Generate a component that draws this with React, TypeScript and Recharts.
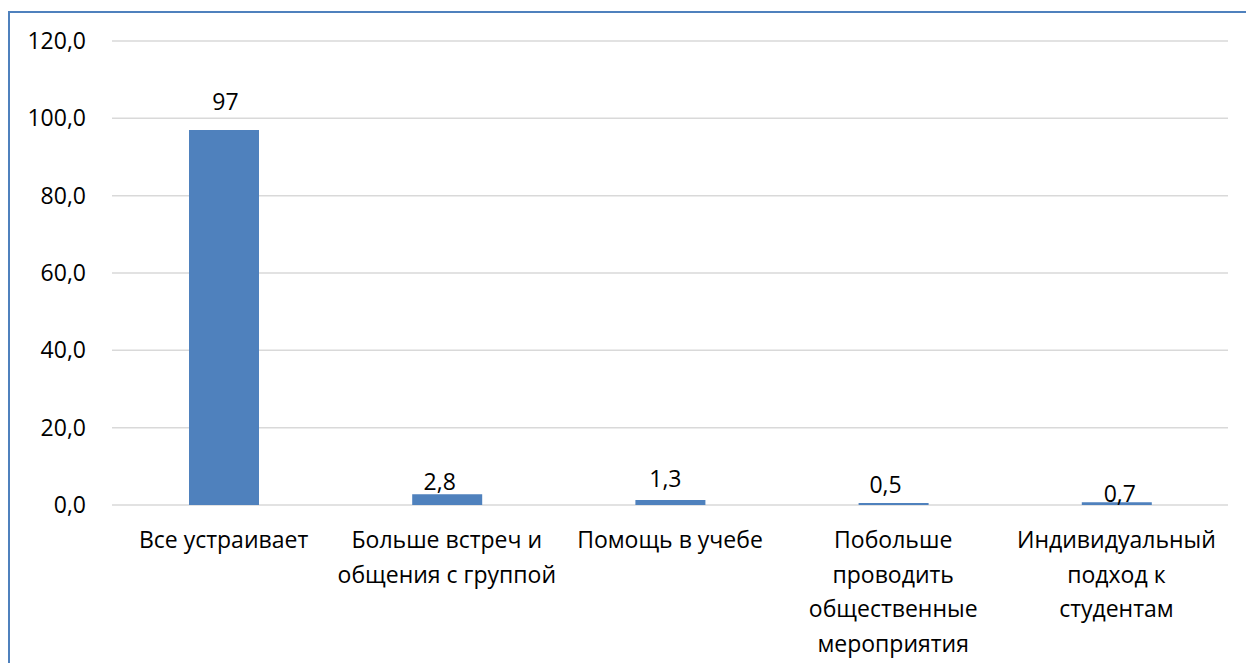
import { Bar, BarChart, CartesianGrid, LabelList, XAxis, YAxis } from 'recharts';

// chart values
const categories = [
  'Все устраивает',
  'Больше встреч и\nобщения с группой',
  'Помощь в учебе',
  'Побольше\nпроводить\nобщественные\nмероприятия',
  'Индивидуальный\nподход к\nстудентам',
];
const shares = [97, 2.8, 1.3, 0.5, 0.7];
const yTicks = [0, 20, 40, 60, 80, 100, 120];

// hand-placed data labels in the original (dx, lift above bar top)
const labelNudge = [
  { dx: 1.5, lift: 20 },
  { dx: -7.5, lift: 4 },
  { dx: -5, lift: 13 },
  { dx: -8, lift: 10 },
  { dx: 3, lift: 0 },
];

const FONT = "'Open Sans', 'Noto Sans', sans-serif";
const FS = 23;

const data = categories.map((name, i) => ({ name, value: shares[i] }));

const fmt = (v: number) => String(v).replace('.', ',');

function CategoryTick(props: any) {
  const { x, y, payload } = props;
  const lines = String(payload.value).split('\n');
  return (
    <text x={x} y={y} textAnchor="middle" fontFamily={FONT} fontSize={FS} fill="#000">
      {lines.map((l, i) => (
        <tspan key={i} x={x} dy={i === 0 ? 43 : 34.5}>
          {l}
        </tspan>
      ))}
    </text>
  );
}

function ValueLabel(props: any) {
  const { x, y, width, value, index } = props;
  const n = labelNudge[index] ?? { dx: 0, lift: 8 };
  return (
    <text
      x={x + width / 2 + n.dx}
      y={y - n.lift}
      textAnchor="middle"
      fontFamily={FONT}
      fontSize={FS}
      fill="#000"
    >
      {fmt(value)}
    </text>
  );
}

export default function App() {
  return (
    <>
      <div
        style={{
          position: 'absolute',
          left: 8,
          top: 11,
          width: 1238,
          height: 652,
          boxSizing: 'border-box',
          borderTop: '2px solid #4f81bd',
          borderLeft: '2px solid #4f81bd',
          background: '#fff',
        }}
      />
      <div style={{ position: 'absolute', left: 0, top: 0, width: 1246, height: 663 }}>
        <BarChart
          width={1246}
          height={663}
          data={data}
          margin={{ top: 41, right: 18, bottom: 8, left: 32 }}
          barSize={70}
        >
          <CartesianGrid vertical={false} stroke="#d9d9d9" strokeWidth={1.5} />
          <XAxis
            dataKey="name"
            height={150}
            axisLine={false}
            tickLine={false}
            tickSize={0}
            tickMargin={0}
            interval={0}
            tick={<CategoryTick />}
          />
          <YAxis
            width={80}
            domain={[0, 120]}
            ticks={yTicks}
            axisLine={false}
            tickLine={false}
            tickSize={0}
            tickMargin={26}
            tickFormatter={(v: number) => v.toFixed(1).replace('.', ',')}
            tick={{ fontFamily: FONT, fontSize: FS, fill: '#000' }}
          />
          <Bar dataKey="value" fill="#4f81bd" isAnimationActive={false}>
            <LabelList dataKey="value" content={<ValueLabel />} />
          </Bar>
        </BarChart>
      </div>
    </>
  );
}
